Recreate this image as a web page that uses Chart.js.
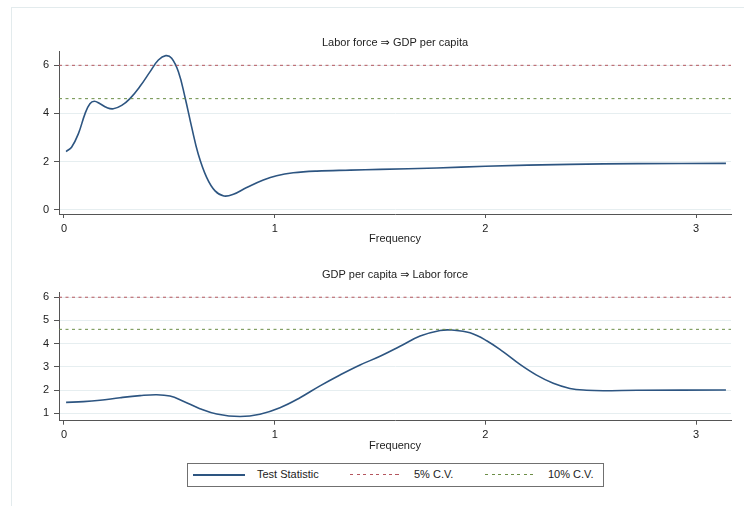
<!DOCTYPE html>
<html>
<head>
<meta charset="utf-8">
<script src="https://cdn.jsdelivr.net/npm/chart.js@4.4.1/dist/chart.umd.min.js"></script>
<style>
  html, body { margin: 0; padding: 0; background: #fff; width: 744px; height: 506px; overflow: hidden; position: relative; }
  body { font-family: 'Liberation Sans', Arial, 'DejaVu Sans', sans-serif; }
  #frame { position: absolute; left: 11px; top: 7px; width: 760px; height: 520px; border-left: 1px solid #e3ebed; border-top: 1px solid #e3ebed; }
  canvas { position: absolute; left: 0; }
  #c1 { top: 0; }
  #c2 { top: 250px; }
  #legend { position: absolute; left: 187px; top: 463px; width: 415px; height: 22px; border: 1px solid #707070; background: #fff; font-size: 11px; color: #222; }
  #legend .smp { position: absolute; top: 10px; height: 2px; }
  #legend .txt { position: absolute; top: 4px; line-height: 13px; white-space: nowrap; }
</style>
</head>
<body>
<div id="frame"></div>
<canvas id="c1" width="744" height="250"></canvas>
<canvas id="c2" width="744" height="210"></canvas>
<div id="legend">
  <div class="smp" id="s1" style="left:5px;width:52px;"></div>
  <div class="txt" style="left:69px;">Test Statistic</div>
  <div class="smp" id="s2" style="left:162px;width:50px;height:1px;"></div>
  <div class="txt" style="left:226px;">5% C.V.</div>
  <div class="smp" id="s3" style="left:297px;width:52px;height:1px;"></div>
  <div class="txt" style="left:360px;">10% C.V.</div>
</div>
<script>
// Frequency-domain causality test statistics (frequency in radians, 0..pi)
const freqLF = [0.01, 0.036, 0.068, 0.1, 0.123, 0.144, 0.171, 0.203, 0.234, 0.274, 0.313, 0.361,
  0.408, 0.448, 0.483, 0.511, 0.543, 0.574, 0.606, 0.637, 0.677, 0.717, 0.759, 0.804, 0.867,
  0.946, 1.009, 1.088, 1.2, 1.36, 1.5, 1.77, 2.0, 2.4, 2.72, 3.1416];
const statLF = [2.42, 2.6, 3.15, 3.99, 4.40, 4.50, 4.40, 4.24, 4.19, 4.33, 4.61, 5.12,
  5.72, 6.21, 6.39, 6.28, 5.72, 4.68, 3.43, 2.32, 1.35, 0.79, 0.58, 0.65, 0.93,
  1.24, 1.42, 1.54, 1.61, 1.65, 1.68, 1.74, 1.81, 1.89, 1.92, 1.93];

const freqGDP = [0.01, 0.092, 0.171, 0.266, 0.361, 0.44, 0.503, 0.566, 0.645, 0.725, 0.835, 0.93,
  1.025, 1.12, 1.215, 1.31, 1.405, 1.5, 1.595, 1.69, 1.785, 1.84, 1.927, 2.006, 2.085, 2.164,
  2.243, 2.322, 2.401, 2.48, 2.56, 2.72, 3.1416];
const statGDP = [1.47, 1.50, 1.56, 1.67, 1.76, 1.80, 1.74, 1.52, 1.20, 0.97, 0.86, 0.96,
  1.24, 1.67, 2.18, 2.65, 3.08, 3.45, 3.88, 4.32, 4.56, 4.58, 4.46, 4.12, 3.64, 3.10,
  2.64, 2.29, 2.07, 1.99, 1.97, 1.99, 2.0];

// Critical values (chi-square, 2 d.f.)
const cv5 = 5.99;
const cv10 = 4.61;

const xTicks = [0, 1, 2, 3];
const yTicksTop = [0, 2, 4, 6];
const yTicksBottom = [1, 2, 3, 4, 5, 6];

const titles = ['Labor force \u21D2 GDP per capita', 'GDP per capita \u21D2 Labor force'];
const seriesNames = ['Test Statistic', '5% C.V.', '10% C.V.'];

const C_LINE = '#2d5581';
const C_RED = '#b5565e';
const C_GREEN = '#6c8e46';
const FONT = "'Liberation Sans', Arial, 'DejaVu Sans', sans-serif";

document.getElementById('s1').style.background = C_LINE;
document.getElementById('s2').style.background = 'repeating-linear-gradient(to right,' + C_RED + ' 0 3px, transparent 3px 6.5px)';
document.getElementById('s3').style.background = 'repeating-linear-gradient(to right,' + C_GREEN + ' 0 3px, transparent 3px 6.5px)';

Chart.defaults.font.family = FONT;
Chart.defaults.font.size = 11;
Chart.defaults.color = '#222';

function makeChart(id, freq, stat, opt) {
  const pts = freq.map((f, i) => ({ x: f, y: stat[i] }));
  const hl = v => [{ x: opt.xMin, y: v }, { x: opt.xMax, y: v }];
  return new Chart(document.getElementById(id), {
    type: 'line',
    data: {
      datasets: [
        { label: seriesNames[1], data: hl(cv5), borderColor: C_RED, borderWidth: 1, borderDash: [3, 3.5], pointRadius: 0 },
        { label: seriesNames[2], data: hl(cv10), borderColor: C_GREEN, borderWidth: 1, borderDash: [3, 3.5], pointRadius: 0 },
        { label: seriesNames[0], data: pts, borderColor: C_LINE, borderWidth: 1.6, pointRadius: 0, tension: 0.4 }
      ]
    },
    options: {
      responsive: false,
      animation: false,
      devicePixelRatio: 1,
      layout: { padding: { left: 0, right: 13, top: 0, bottom: opt.padBottom } },
      plugins: {
        legend: { display: false },
        tooltip: { enabled: false },
        title: {
          display: true, text: opt.title, fullSize: false,
          font: { size: 11, weight: 'normal', lineHeight: 1.2 }, color: '#222',
          padding: { top: opt.titleTop, bottom: opt.titleBottom }
        }
      },
      scales: {
        x: {
          type: 'linear', min: opt.xMin, max: opt.xMax,
          afterBuildTicks: s => { s.ticks = xTicks.map(v => ({ value: v })); },
          afterFit: s => { s.height = 32; },
          grid: { drawOnChartArea: false, drawTicks: true, tickLength: 4, tickColor: '#555' },
          border: { display: true, color: '#555', width: 1 },
          ticks: { padding: 4, color: '#222', font: { size: 11 } },
          title: { display: true, text: 'Frequency', color: '#222', font: { size: 11, lineHeight: 1.2 }, padding: { top: 0, bottom: 0 } }
        },
        y: {
          type: 'linear', min: opt.yMin, max: opt.yMax,
          afterBuildTicks: s => { s.ticks = opt.yTicks.map(v => ({ value: v })); },
          afterFit: s => { s.width = 59; },
          grid: { color: '#e6eef0', lineWidth: 1, drawTicks: true, tickLength: 5, tickColor: '#555' },
          border: { display: true, color: '#555', width: 1 },
          ticks: { padding: 5, color: '#222', font: { size: 11 } }
        }
      }
    }
  });
}

makeChart('c1', freqLF, statLF, {
  title: titles[0], xMin: -0.0237, xMax: 3.1656, yMin: -0.167, yMax: 6.583,
  yTicks: yTicksTop, titleTop: 36.4, titleBottom: 1.4, padBottom: 4
});
makeChart('c2', freqGDP, statGDP, {
  title: titles[1], xMin: -0.0237, xMax: 3.1656, yMin: 0.682, yMax: 6.185,
  yTicks: yTicksBottom, titleTop: 18.4, titleBottom: 11.1, padBottom: 7.3
});
</script>
</body>
</html>
